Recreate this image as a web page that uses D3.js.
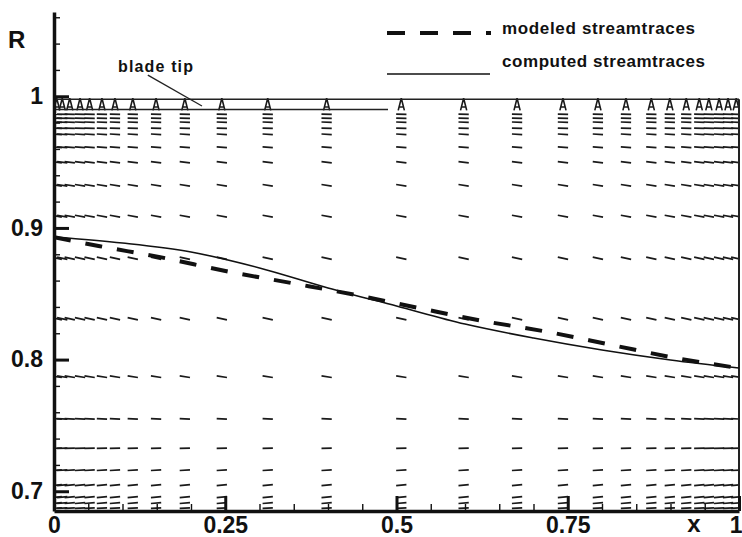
<!DOCTYPE html>
<html>
<head>
<meta charset="utf-8">
<script src="https://cdn.jsdelivr.net/npm/d3@7"></script>
<style>
  body { margin: 0; background: #fff; }
  svg { display: block; font-family: "Liberation Sans", Arial, Helvetica, sans-serif; font-weight: bold; }
  .axis text { font-size: 23px; font-weight: bold; fill: #111; }
  .axis path, .axis line { stroke: #111; }
</style>
</head>
<body>
<div id="chart"></div>
<script>
var width = 742,
    height = 537;

// streamtraces (x, R)
var computedX = [0, 0.1, 0.2, 0.3, 0.4, 0.5, 0.6, 0.7, 0.8, 0.9, 1];
var computedR = [0.8931, 0.8885, 0.8817, 0.8696, 0.8544, 0.8407, 0.8270, 0.8164, 0.8073, 0.7997, 0.7936];

var modeledX = [0, 0.067, 0.155, 0.252, 0.348, 0.442, 0.534, 0.628, 0.723, 0.815, 0.910, 1];
var modeledR = [0.8929, 0.8861, 0.8778, 0.8671, 0.8580, 0.8489, 0.8390, 0.8292, 0.8208, 0.8110, 0.8010, 0.7935];

// velocity vector grid
var colX = [0.004, 0.012, 0.023, 0.038, 0.052, 0.070, 0.089, 0.115, 0.149, 0.191, 0.245, 0.312,
            0.398, 0.507, 0.598, 0.676, 0.743, 0.794, 0.835, 0.872, 0.899, 0.923, 0.942, 0.956,
            0.971, 0.984, 0.996];
var rowR = [0.9863, 0.9833, 0.9803, 0.9757, 0.9711, 0.9613, 0.9499, 0.9324, 0.9089, 0.8770,
            0.831, 0.787, 0.755, 0.7327, 0.716, 0.7046, 0.6955, 0.691, 0.6872];
var rowSlope = [-0.01, -0.01, -0.02, -0.02, -0.03, -0.04, -0.06, -0.08, -0.10, -0.11,
                -0.11, -0.08, -0.03, 0.01, 0.03, 0.05, 0.05, 0.04, 0.03];
var vecLen = 0.015;

// tip-gap glyphs (x offset, R) drawn at each column
var gapDX = [-0.0045, 0, 0.0045];
var gapR = [0.9893, 0.9985, 0.9893];

// blade tip and shroud lines
var shroudR = 0.9977,
    tipR = 0.990,
    tipEndX = 0.4876;

var xMajor = [0, 0.25, 0.5, 0.75, 1];
var yMajor = [0.7, 0.8, 0.9, 1];
var xMinor = d3.range(1, 20).map(function(k) { return k * 0.05; }).filter(function(d) { return Math.abs(d * 4 - Math.round(d * 4)) > 1e-6; });
var yMinor = d3.range(35, 54).map(function(k) { return k * 0.02; }).filter(function(d) { return Math.abs(d * 10 - Math.round(d * 10)) > 1e-6; });

var x = d3.scaleLinear().domain([0, 1]).range([54, 739]);
var y = d3.scaleLinear().domain([0.685, 1.064]).range([511, 12]);

var svg = d3.select("#chart").append("svg")
    .attr("width", width)
    .attr("height", height);

svg.append("defs").append("clipPath").attr("id", "plot")
  .append("rect")
    .attr("x", x(0)).attr("y", y(1.064))
    .attr("width", x(1) - x(0)).attr("height", y(0.685) - y(1.064));

var field = svg.append("g").attr("clip-path", "url(#plot)");

// vectors
var cells = [];
rowR.forEach(function(r, i) {
  colX.forEach(function(c) { cells.push({x: c, r: r, s: rowSlope[i]}); });
});

field.append("g").attr("class", "vectors")
    .selectAll("line").data(cells)
  .enter().append("line")
    .attr("x1", function(d) { return x(d.x - vecLen / 2); })
    .attr("x2", function(d) { return x(d.x + vecLen / 2); })
    .attr("y1", function(d) { return y(d.r - d.s * vecLen / 2); })
    .attr("y2", function(d) { return y(d.r + d.s * vecLen / 2); })
    .attr("stroke", "#1a1a1a")
    .attr("stroke-width", 1.7);

// little "A" marks inside the tip gap
var gapLine = d3.line()
    .x(function(d) { return x(d[0]); })
    .y(function(d) { return y(d[1]); });

field.append("g").attr("class", "gap")
    .selectAll("path").data(colX)
  .enter().append("path")
    .attr("d", function(c) {
      var pts = gapDX.map(function(dx, i) { return [c + dx, gapR[i]]; });
      var mid = (gapR[0] + gapR[1]) / 2 - 0.002;
      var bar = [[c + gapDX[0] * 0.6, mid], [c + gapDX[2] * 0.6, mid]];
      return gapLine(pts) + gapLine(bar);
    })
    .attr("fill", "none")
    .attr("stroke", "#1a1a1a")
    .attr("stroke-width", 1.6);

// shroud + blade tip
svg.append("line")
    .attr("x1", x(0)).attr("x2", x(1))
    .attr("y1", y(shroudR)).attr("y2", y(shroudR))
    .attr("stroke", "#222").attr("stroke-width", 1.6);
svg.append("line")
    .attr("x1", x(0)).attr("x2", x(tipEndX))
    .attr("y1", y(tipR)).attr("y2", y(tipR))
    .attr("stroke", "#222").attr("stroke-width", 1.4);
svg.append("line")
    .attr("x1", x(1)).attr("x2", x(1))
    .attr("y1", y(shroudR)).attr("y2", y(0.685))
    .attr("stroke", "#222").attr("stroke-width", 2);

// streamtraces
var line = d3.line()
    .x(function(d) { return x(d[0]); })
    .y(function(d) { return y(d[1]); })
    .curve(d3.curveMonotoneX);

svg.append("path")
    .datum(computedX.map(function(v, i) { return [v, computedR[i]]; }))
    .attr("d", line)
    .attr("fill", "none")
    .attr("stroke", "#111")
    .attr("stroke-width", 1.6);

svg.append("path")
    .datum(modeledX.map(function(v, i) { return [v, modeledR[i]]; }))
    .attr("d", line)
    .attr("fill", "none")
    .attr("stroke", "#111")
    .attr("stroke-width", 4)
    .attr("stroke-dasharray", "17,15");

// axes
var fmt = d3.format("");

svg.append("g").attr("class", "axis")
    .attr("transform", "translate(" + x(0) + ",0)")
    .call(d3.axisLeft(y).tickValues(yMinor).tickSizeInner(-6).tickSizeOuter(0).tickFormat(""))
    .call(function(g) { g.selectAll("line").attr("stroke-width", 1.4); g.select(".domain").remove(); });

svg.append("g").attr("class", "axis")
    .attr("transform", "translate(0," + y(0.685) + ")")
    .call(d3.axisBottom(x).tickValues(xMinor).tickSizeInner(-7).tickSizeOuter(0).tickFormat(""))
    .call(function(g) { g.selectAll("line").attr("stroke-width", 1.4); g.select(".domain").remove(); });

svg.append("g").attr("class", "axis")
    .attr("transform", "translate(" + x(0) + ",0)")
    .call(d3.axisLeft(y).tickValues(yMajor).tickSizeInner(-15).tickSizeOuter(0).tickPadding(11).tickFormat(fmt))
    .call(function(g) {
      g.selectAll("line").attr("stroke-width", 3);
      g.select(".domain").attr("stroke-width", 3.5);
    });

svg.append("g").attr("class", "axis")
    .attr("transform", "translate(0," + y(0.685) + ")")
    .call(d3.axisBottom(x).tickValues(xMajor).tickSizeInner(-15).tickSizeOuter(0).tickPadding(6).tickFormat(fmt))
    .call(function(g) {
      g.selectAll("line").attr("stroke-width", 3);
      g.select(".domain").attr("stroke-width", 3.5);
      // last label sits at the page edge; keep it inside
      g.selectAll(".tick text").filter(function(d) { return d === 1; })
        .attr("text-anchor", "end").attr("x", 3);
    });

svg.append("text")
    .attr("x", 8).attr("y", 48)
    .attr("font-size", 24)
    .attr("fill", "#111")
    .text("R");

svg.append("text")
    .attr("x", 694).attr("y", 532)
    .attr("text-anchor", "middle")
    .attr("font-size", 24)
    .attr("fill", "#111")
    .text("x");

// blade tip note
svg.append("text")
    .attr("x", 118).attr("y", 72)
    .attr("font-size", 16)
    .attr("textLength", 75)
    .attr("fill", "#111")
    .text("blade tip");
svg.append("line")
    .attr("x1", x(0.137)).attr("y1", y(1.0161))
    .attr("x2", x(0.216)).attr("y2", y(0.9926))
    .attr("stroke", "#222").attr("stroke-width", 1.3);

// legend
var legend = svg.append("g").attr("class", "legend");
legend.append("line")
    .attr("x1", 387).attr("x2", 491).attr("y1", 33).attr("y2", 33)
    .attr("stroke", "#111").attr("stroke-width", 4)
    .attr("stroke-dasharray", "18,15");
legend.append("text")
    .attr("x", 502).attr("y", 34)
    .attr("font-size", 17)
    .attr("textLength", 193)
    .attr("fill", "#111")
    .text("modeled streamtraces");
legend.append("line")
    .attr("x1", 387).attr("x2", 490).attr("y1", 74).attr("y2", 74)
    .attr("stroke", "#111").attr("stroke-width", 1.6);
legend.append("text")
    .attr("x", 502).attr("y", 67)
    .attr("font-size", 17)
    .attr("textLength", 203)
    .attr("fill", "#111")
    .text("computed streamtraces");
</script>
</body>
</html>
